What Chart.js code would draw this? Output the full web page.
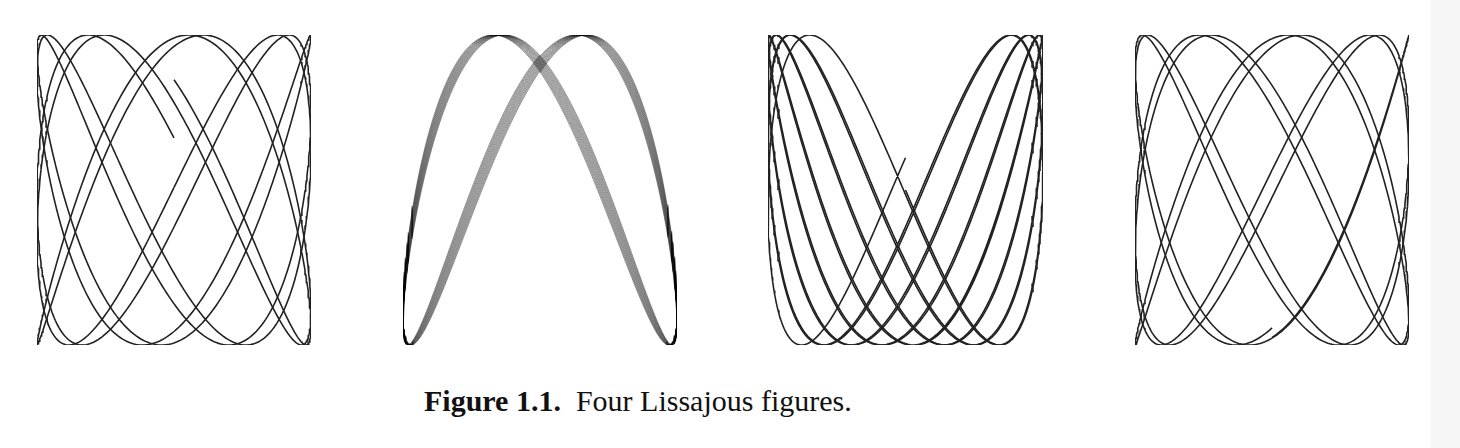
<!DOCTYPE html>
<html>
<head>
<meta charset="utf-8">
<script src="https://cdn.jsdelivr.net/npm/chart.js@4.4.1/dist/chart.umd.min.js"></script>
<style>
  body { margin: 0; background: #fff; width: 1460px; height: 448px; position: relative; overflow: hidden; }
  .fig { position: absolute; top: 33px; }
  #edge { position: absolute; left: 1431px; top: 0; width: 29px; height: 448px; background: #f6f6f6; }
  #caption { position: absolute; left: 424px; top: 384px; font-family: "Liberation Serif", "DejaVu Serif", serif; font-size: 30px; color: #111; white-space: pre; }
  #caption b { font-weight: bold; }
</style>
</head>
<body>
<div id="edge"></div>
<div class="fig" style="left:35px"><canvas id="c0" width="278" height="314"></canvas></div>
<div class="fig" style="left:401px"><canvas id="c1" width="278" height="314"></canvas></div>
<div class="fig" style="left:766px"><canvas id="c2" width="279" height="314"></canvas></div>
<div class="fig" style="left:1133px"><canvas id="c3" width="278" height="314"></canvas></div>
<div id="caption"><b>Figure 1.1.</b>  Four Lissajous figures.</div>
<script>
// x = sin(t), y = sin(yFreq*t + yPhase), t fra 0 til halfTurns*pi
// værdierne er aflæst fra billedet (frekvensforhold, fase og hvor langt kurven er tegnet)
const yFreq = [1.8143, 2.0026, 2.0762, 1.8051]
const yPhase = [2.35, 0.86, Math.PI, -1.2566]
const halfTurns = [10, 24, 14, 10]
const lineColors = ['#222', 'rgba(0,0,0,0.42)', '#222', '#222']
const lineWidths = [1.6, 1.0, 1.6, 1.6]

const stepsPerTurn = 360

// en dataset pr. omgang, så overlap bliver mørkere
function buildDatasets(i) {
  let sets = []
  let turns = halfTurns[i] / 2
  for (let p = 0; p < turns; p++) {
    let pts = []
    for (let s = 0; s <= stepsPerTurn; s++) {
      let t = 2 * Math.PI * (p + s / stepsPerTurn)
      pts.push({ x: Math.sin(t), y: Math.sin(yFreq[i] * t + yPhase[i]) })
    }
    sets.push({
      data: pts,
      showLine: true,
      borderColor: lineColors[i],
      borderWidth: lineWidths[i],
      pointRadius: 0,
      tension: 0
    })
  }
  return sets
}

for (let i = 0; i < 4; i++) {
  new Chart(document.getElementById('c' + i), {
    type: 'scatter',
    data: { datasets: buildDatasets(i) },
    options: {
      responsive: false,
      animation: false,
      events: [],
      layout: { padding: 2 },
      plugins: { legend: { display: false }, tooltip: { enabled: false } },
      scales: {
        x: { display: false, min: -1, max: 1 },
        y: { display: false, min: -1, max: 1 }
      }
    }
  })
}
</script>
</body>
</html>
